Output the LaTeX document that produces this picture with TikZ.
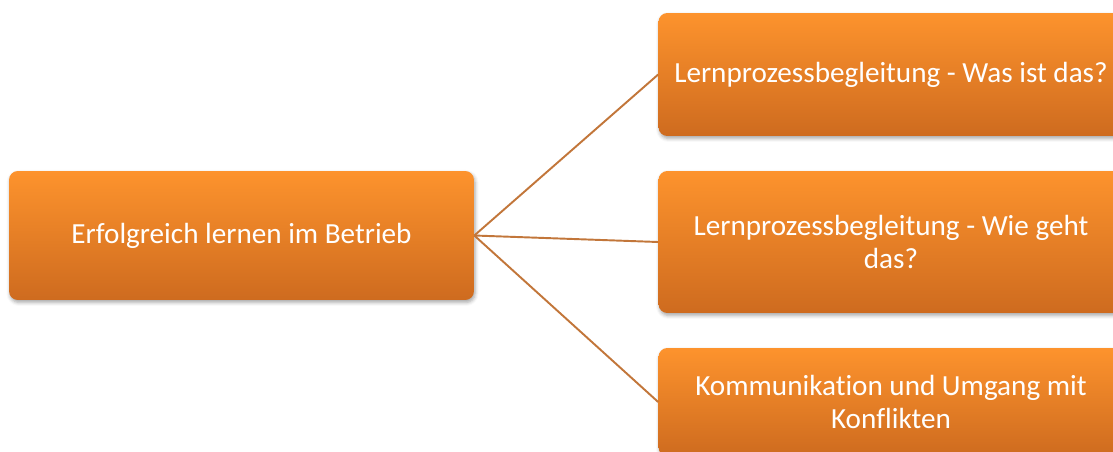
\documentclass[tikz,border=0pt]{standalone}
\usepackage{fontspec}
\setmainfont{Carlito}[Ligatures=NoCommon]
\usepackage{tikz}
\usetikzlibrary{shadows.blur}
\definecolor{boxtop}{RGB}{253,147,45}
\definecolor{boxbot}{RGB}{206,107,31}
\definecolor{linkcol}{RGB}{194,118,58}

\begin{document}
\begin{tikzpicture}[x=0.02cm,y=-0.02cm]

	\tikzstyle{topic} = [rectangle,rounded corners=5pt,top color=boxtop,bottom color=boxbot,
		text=white,align=center,inner sep=0pt,minimum width=9.3cm,
		font=\fontsize{16.6}{18.4}\selectfont,
		blur shadow={shadow xshift=0.6pt,shadow yshift=-1.4pt,shadow blur radius=2pt,shadow opacity=35}]
	\tikzstyle{link} = [draw=linkcol,line width=1.1pt]

	\useasboundingbox (0,0) rectangle (1113,451);
	\clip (0,0) rectangle (1113,451);

	%\draw (0,0) rectangle (1113,451);

	\node[topic,minimum height=2.58cm] (main) at (241.5,235.5) {Erfolgreich lernen im Betrieb};

	\node[topic,minimum height=2.46cm] (sub1) at (891,74.5) {Lernprozessbegleitung - Was ist das?};
	\node[topic,minimum height=2.84cm] (sub2) at (891,242) {Lernprozessbegleitung - Wie geht\\das?};
	\node[topic,minimum height=2.16cm] (sub3) at (891,402) {Kommunikation und Umgang mit\\Konflikten};

	\draw[link] (main.east) -- (sub1.west);
	\draw[link] (main.east) -- (sub2.west);
	\draw[link] (main.east) -- (sub3.west);

\end{tikzpicture}
\end{document}
